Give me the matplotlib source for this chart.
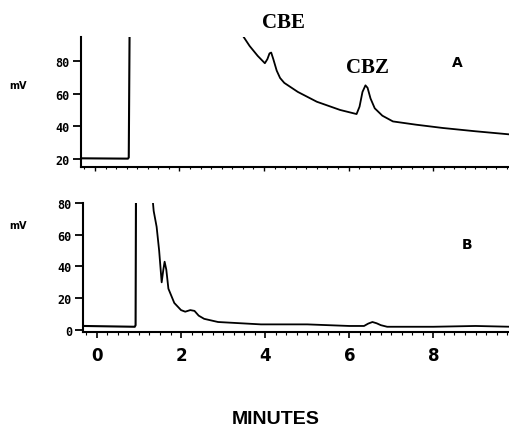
import matplotlib
matplotlib.use("Agg")
import matplotlib.pyplot as plt
from matplotlib.ticker import MultipleLocator

# ---- data (minutes, mV) ----
a_base_t = [-0.33, 0.78, 0.80, 0.82]
a_base_v = [20.5, 20.3, 21.0, 100.0]
a_trace_t = [3.48, 3.66, 3.85, 4.02, 4.08, 4.13, 4.17, 4.22, 4.30, 4.38, 4.48, 4.8, 5.25, 5.8,
             6.19, 6.26, 6.33, 6.40, 6.45, 6.52, 6.62, 6.80, 7.05, 7.6, 8.23, 9.0, 9.85]
a_trace_v = [96, 89, 83, 78.5, 81, 84.5, 85, 81, 74, 69.5, 66.5, 61, 55, 50,
             47.5, 52, 61, 65, 63.5, 57, 51, 46.5, 43, 41, 39, 37, 35]

b_base_t = [-0.30, 0.90, 0.92, 0.93]
b_base_v = [2.5, 2.0, 3.0, 90.0]
b_trace_t = [1.30, 1.35, 1.42, 1.48, 1.54, 1.58, 1.61, 1.65, 1.70, 1.84, 2.0, 2.10,
             2.22, 2.32, 2.42, 2.55, 2.88, 3.9, 5.0, 6.0, 6.35, 6.45, 6.55, 6.65, 6.75, 6.9, 8.0, 9.0, 9.85]
b_trace_v = [90, 75, 65, 50, 30, 38, 43, 38, 26, 17, 12.5, 11.5,
             12.5, 12, 9, 7, 5, 3.5, 3.5, 2.5, 2.5, 4, 5, 4.2, 3, 2, 2, 2.5, 2]

y_ticks = [20, 40, 60, 80]
y_ticks_b = [0, 20, 40, 60, 80]
x_ticks = [0, 2, 4, 6, 8]

fig = plt.figure(figsize=(5.10, 4.31), dpi=100)
axA = fig.add_axes([81/510, 1-168/431, 1-81/510, (168-38)/431])
axB = fig.add_axes([83/510, 1-333/431, 1-83/510, (333-204)/431])

tickfont = dict(family="DejaVu Sans Mono", weight="bold", size=8.5)
for ax in (axA, axB):
    ax.set_xlim(-0.33, 9.82)
    for s in ("top", "right"):
        ax.spines[s].set_visible(False)
    for s in ("left", "bottom"):
        ax.spines[s].set_linewidth(1.5)
    ax.tick_params(axis="y", direction="out", length=6, width=1.3, pad=2)
    ax.xaxis.set_minor_locator(MultipleLocator(0.25))

axA.set_ylim(15.2, 94.5)
axA.plot(a_base_t, a_base_v, color="black", lw=1.5)
axA.plot(a_trace_t, a_trace_v, color="black", lw=1.3)
axA.set_yticks(y_ticks)
axA.set_yticklabels([str(v) for v in y_ticks], fontdict=tickfont)
axA.set_xticks(x_ticks)
axA.tick_params(axis="x", which="major", direction="out", length=3, width=1, labelbottom=False)
axA.tick_params(axis="x", which="minor", direction="out", length=1.5, width=0.8)

axB.set_ylim(-1.3, 80)
axB.plot(b_base_t, b_base_v, color="black", lw=1.5)
axB.plot(b_trace_t, b_trace_v, color="black", lw=1.3)
axB.set_yticks(y_ticks_b)
axB.set_yticklabels([str(v) for v in y_ticks_b], fontdict=tickfont)
axB.set_xticks(x_ticks)
axB.set_xticklabels([str(v) for v in x_ticks], fontdict=dict(family="DejaVu Sans", weight="bold", size=12))
axB.tick_params(axis="x", which="major", direction="out", length=4, width=1.2, pad=6)
axB.tick_params(axis="x", which="minor", direction="out", length=2, width=0.8)

# annotations
fig.text(283/510, 1-23/431, "CBE", family="Liberation Serif", weight="bold", size=15, ha="center", va="center")
fig.text(368/510, 1-68/431, "CBZ", family="Liberation Serif", weight="bold", size=15, ha="center", va="center")
fig.text(457/510, 1-63/431, "A", family="DejaVu Sans", weight="bold", size=10, ha="center", va="center")
fig.text(467/510, 1-245/431, "B", family="DejaVu Sans", weight="bold", size=10, ha="center", va="center")
fig.text(18/510, 1-86/431, "mV", family="DejaVu Sans", weight="bold", size=7, ha="center", va="center")
fig.text(18/510, 1-226/431, "mV", family="DejaVu Sans", weight="bold", size=7, ha="center", va="center")
fig.text(276/510, 1-420/431, "MINUTES", family="Liberation Sans", weight="bold", size=14, ha="center", va="center")

fig.savefig("out.png", dpi=100)
